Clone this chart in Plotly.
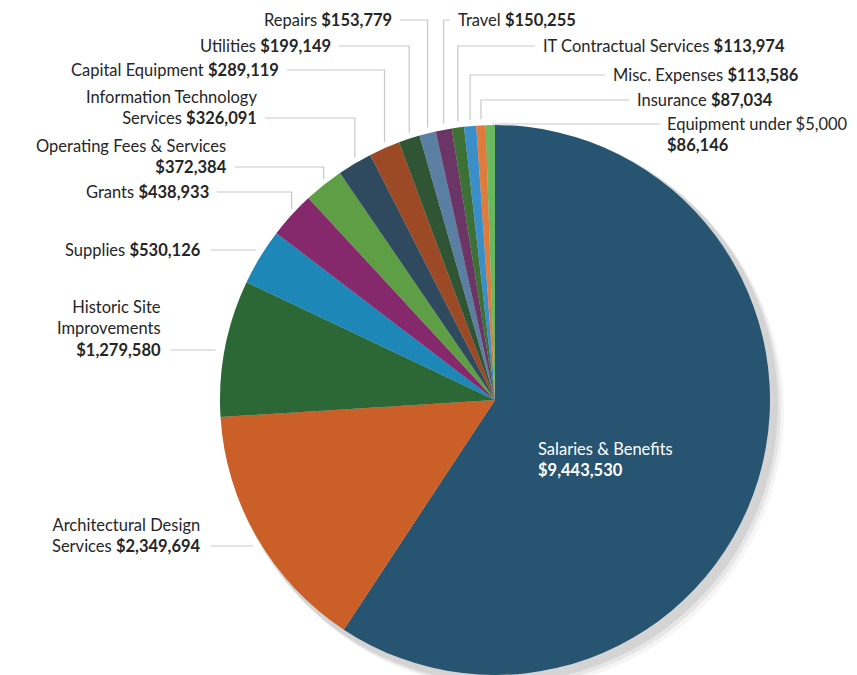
import math
import plotly.graph_objects as go

categories = [
    "Salaries & Benefits", "Architectural Design Services", "Historic Site Improvements",
    "Supplies", "Grants", "Operating Fees & Services", "Information Technology Services",
    "Capital Equipment", "Utilities", "Repairs", "Travel", "IT Contractual Services",
    "Misc. Expenses", "Insurance", "Equipment under $5,000",
]
values = [9443530, 2349694, 1279580, 530126, 438933, 372384, 326091,
          289119, 199149, 153779, 150255, 113974, 113586, 87034, 86146]
colors = ["#275470", "#cb5f28", "#2c6836", "#1d88b8", "#86296c", "#5e9e45", "#2f4a5e",
          "#9c4a26", "#2f5535", "#5b7fa3", "#6b3566", "#3c7035", "#3a8fc8", "#e07b3e", "#6ab85e"]

# window 857x675; page body has an 8px margin, so figure is 849x667
OFF = 8
FW, FH = 857 - OFF, 675 - OFF
CX, CY, R = 495, 400, 275   # in window pixels

FONT = "Lato"
FS = 16.5
LINE_H = 1.3 * FS

# label layout: (text lines, text x px, leader y px, align, style, leader line index)
label_layout = {
    "Architectural Design Services": (["Architectural Design", "Services <b>{v}</b>"], 203, 546, "right", "h", 1),
    "Historic Site Improvements": (["Historic Site", "Improvements", "<b>{v}</b>"], 163, 350, "right", "h", 2),
    "Supplies": (["Supplies <b>{v}</b>"], 203, 250, "right", "h", 0),
    "Grants": (["Grants <b>{v}</b>"], 211, 192, "right", "e", 0),
    "Operating Fees & Services": (["Operating Fees & Services", "<b>{v}</b>"], 229, 167, "right", "e", 1),
    "Information Technology Services": (["Information Technology", "Services <b>{v}</b>"], 259, 118, "right", "e", 1),
    "Capital Equipment": (["Capital Equipment <b>{v}</b>"], 281, 70, "right", "e", 0),
    "Utilities": (["Utilities <b>{v}</b>"], 333, 46, "right", "e", 0),
    "Repairs": (["Repairs <b>{v}</b>"], 394, 20, "right", "e", 0),
    "Travel": (["Travel <b>{v}</b>"], 456, 20, "left", "e", 0),
    "IT Contractual Services": (["IT Contractual Services <b>{v}</b>"], 541, 46, "left", "e", 0),
    "Misc. Expenses": (["Misc. Expenses <b>{v}</b>"], 611, 75, "left", "e", 0),
    "Insurance": (["Insurance <b>{v}</b>"], 635, 100, "left", "e", 0),
    "Equipment under $5,000": (["Equipment under $5,000", "<b>{v}</b>"], 665, 124, "left", "h", 0),
}


def px(x):
    return (x - OFF) / FW


def py(y):
    return 1 - (y - OFF) / FH


fig = go.Figure()
fig.add_trace(go.Pie(
    labels=categories, values=values, sort=False, direction="clockwise", rotation=0,
    marker=dict(colors=colors, line=dict(width=0)), textinfo="none",
    domain=dict(x=[px(CX - R), px(CX + R)], y=[0, 2 * (FH - (CY - OFF)) / FH]),
    showlegend=False, hoverinfo="label+value",
))

shapes = []
# soft shadow
for off, op in [(11, 0.04), (8, 0.06), (5, 0.08)]:
    shapes.append(dict(type="circle", xref="paper", yref="paper", layer="below",
                       x0=px(CX - R + off - 3), x1=px(CX + R + off + 3),
                       y0=py(CY + R + off + 3), y1=py(CY - R + off - 3),
                       fillcolor=f"rgba(0,0,0,{op})", line=dict(width=0)))

annotations = []
total = sum(values)
cum = 0.0
line_col = "#c8c8c8"
for cat, v in zip(categories, values):
    mid = (cum + v / 2) / total * 2 * math.pi
    cum += v
    ax = CX + R * math.sin(mid)
    ay = CY - R * math.cos(mid)
    if cat not in label_layout:
        continue
    lines, lx, ly, align, style, li = label_layout[cat]
    txt = "<br>".join(lines).replace("{v}", f"${v:,.0f}")
    n = len(lines)
    gap = 6
    if style == "e":
        xs = lx + (6 if align == "right" else -6)
        shapes.append(dict(type="path", xref="paper", yref="paper",
                           path=f"M {px(xs)} {py(ly)} L {px(ax)} {py(ly)} L {px(ax)} {py(ay - gap)}",
                           line=dict(color=line_col, width=1.2)))
    else:
        dy = ly - CY
        ex = math.sqrt(max(R * R - dy * dy, 0))
        if align == "right":
            xe = CX - ex - 9
            xs = lx + 8
        else:
            xe = lx - 5
            xs = ax + 2
        shapes.append(dict(type="line", xref="paper", yref="paper",
                           x0=px(xs), x1=px(xe), y0=py(ly), y1=py(ly),
                           line=dict(color=line_col, width=1.2)))
    ycenter = ly + ((n - 1) / 2 - li) * LINE_H
    annotations.append(dict(
        text=txt, xref="paper", yref="paper", x=px(lx), y=py(ycenter),
        xanchor=align, yanchor="middle", align=align, showarrow=False,
        font=dict(family=FONT, size=FS, color="#262626"),
    ))

annotations.append(dict(
    text="Salaries & Benefits<br><b>$9,443,530</b>", xref="paper", yref="paper",
    x=px(536), y=py(459), xanchor="left", yanchor="middle", align="left",
    showarrow=False, font=dict(family=FONT, size=FS, color="white"),
))

fig.update_layout(
    width=FW, height=FH, margin=dict(l=0, r=0, t=0, b=0),
    paper_bgcolor="white", plot_bgcolor="white",
    shapes=shapes, annotations=annotations,
)
fig.write_html("out.html")
